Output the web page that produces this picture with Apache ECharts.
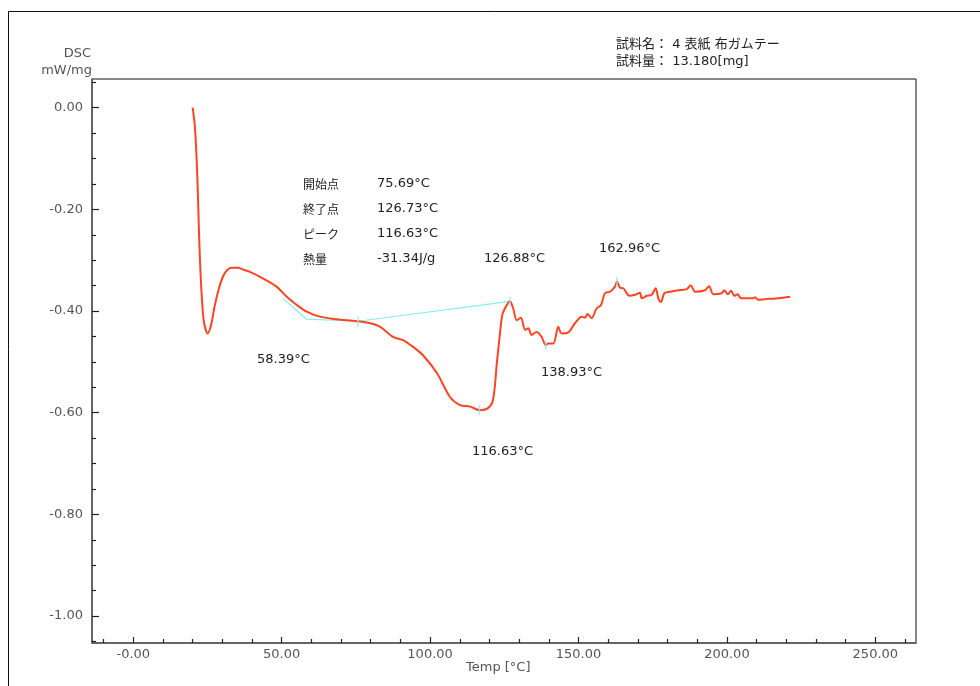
<!DOCTYPE html>
<html>
<head>
<meta charset="utf-8">
<script src="https://cdn.jsdelivr.net/npm/echarts@6/dist/echarts.min.js"></script>
<style>
  html, body { margin: 0; padding: 0; background: #fff; }
  #chart { width: 980px; height: 686px; }
</style>
</head>
<body>
<div id="chart"></div>
<script>
// DSC curve: temperature (°C) and heat flow (mW/mg)
const temps = [
  20.0, 20.8, 21.6, 22.1, 22.5, 23.05, 23.8, 25.1, 26.2, 27.5, 29.2, 30.9, 33.2, 35.3, 37.3,
  39.3, 43.8, 48.3, 51.7, 55.1, 58.4, 62.9, 68.5, 75.3, 79.8, 83.2, 87.5, 90.9, 94.2, 97.6,
  102.3, 106.7, 110.1, 113.5, 116.63, 119.5, 121.2, 122.5, 123.6, 124.3, 125.2, 126.88, 128.0, 129.2,
  130.6, 132.0, 133.1, 134.2, 135.9, 137.6, 138.93, 139.8, 141.5, 143.2, 144.3, 146.6, 148.8, 151.1, 152.2,
  153.1, 154.4, 156.1, 157.6, 158.9, 160.6, 162.3, 162.96, 164.0, 165.1, 166.6, 167.4, 169.0, 170.7, 171.3,
  173.0, 174.7, 176.0, 176.9, 177.8, 178.9, 180.8, 183.6, 186.5, 187.8, 189.3, 192.6, 194.0, 195.4, 198.2,
  199.1, 200.3, 201.4, 202.5, 203.6, 204.8, 208.9, 209.5, 210.6, 213.9, 217.3, 221.3
];
const dsc = [
  0.000, -0.040, -0.138, -0.237, -0.303, -0.368, -0.421, -0.444, -0.428, -0.388, -0.349, -0.325, -0.315, -0.315, -0.319,
  -0.323, -0.336, -0.352, -0.372, -0.388, -0.401, -0.411, -0.416, -0.420, -0.424, -0.431, -0.451, -0.457, -0.470, -0.487,
  -0.522, -0.569, -0.585, -0.588, -0.595, -0.591, -0.575, -0.502, -0.441, -0.408, -0.395, -0.380, -0.395, -0.418,
  -0.413, -0.437, -0.434, -0.447, -0.441, -0.451, -0.467, -0.464, -0.464, -0.431, -0.444, -0.442, -0.424, -0.411, -0.413,
  -0.406, -0.414, -0.395, -0.388, -0.365, -0.362, -0.352, -0.342, -0.354, -0.355, -0.368, -0.370, -0.368, -0.364, -0.375,
  -0.370, -0.368, -0.355, -0.375, -0.382, -0.365, -0.362, -0.359, -0.357, -0.349, -0.362, -0.359, -0.351, -0.367, -0.365,
  -0.359, -0.367, -0.360, -0.370, -0.367, -0.375, -0.375, -0.373, -0.378, -0.376, -0.375, -0.372
];

// analysis baseline (tangent + integration baseline)
const baseTemps = [50.5, 58.39, 75.69, 126.88];
const baseValues = [-0.375, -0.416, -0.420, -0.381];

// characteristic-point markers
const markTemps = [75.69, 116.63, 126.88, 138.93, 162.96];
const markValues = [-0.421, -0.595, -0.381, -0.467, -0.343];

// axis ticks
const xMajorTicks = [0, 50, 100, 150, 200, 250];
const xTickLabels = ['-0.00', '50.00', '100.00', '150.00', '200.00', '250.00'];
const xMinorTicks = [-10, 10, 20, 30, 40, 60, 70, 80, 90, 110, 120, 130, 140, 160, 170, 180, 190, 210, 220, 230, 240, 260];
const yMajorTicks = [0, -0.2, -0.4, -0.6, -0.8, -1.0];
const yTickLabels = ['0.00', '-0.20', '-0.40', '-0.60', '-0.80', '-1.00'];
const yMinorTicks = [0.05, -0.05, -0.1, -0.15, -0.25, -0.3, -0.35, -0.45, -0.5, -0.55, -0.65, -0.7, -0.75, -0.85, -0.9, -0.95, -1.05];

// analysis results
const resultNames = ['開始点', '終了点', 'ピーク', '熱量'];
const resultValues = ['75.69°C', '126.73°C', '116.63°C', '-31.34J/g'];
const peakLabels = ['58.39°C', '116.63°C', '126.88°C', '138.93°C', '162.96°C'];
const sampleInfo = ['試料名： 4 表紙 布ガムテープ', '試料量： 13.180[mg]'];

const X_MIN = -13.9, X_MAX = 263.7, Y_MIN = -1.053, Y_MAX = 0.0565;
const NUM_FONT = '"DejaVu Sans", Verdana, sans-serif';
const JP_FONT = '"Noto Sans CJK JP", sans-serif';
const MIX_FONT = '"DejaVu Sans", "Noto Sans CJK JP", sans-serif';
const AXIS_GRAY = '#5a5a5a';
const TEXT_GRAY = '#555';
const TEXT_DARK = '#222';

const chart = echarts.init(document.getElementById('chart'), null, { renderer: 'canvas' });

function axisBase(extra) {
  return Object.assign({
    type: 'value',
    splitLine: { show: false },
    axisLine: { show: true, onZero: false, lineStyle: { color: AXIS_GRAY, width: 1.5 } }
  }, extra);
}

const xLabelMap = {};
xMajorTicks.forEach((v, i) => { xLabelMap[v] = xTickLabels[i]; });
const yLabelMap = {};
yMajorTicks.forEach((v, i) => { yLabelMap[v.toFixed(2)] = yTickLabels[i]; });

// free-standing texts, positioned in the canvas
const texts = [];
function addText(x, y, str, font, size, color, extra) {
  texts.push({
    type: 'text', x: x, y: y, z: 10,
    style: Object.assign({
      text: str, fontFamily: font, fontSize: size, fill: color,
      verticalAlign: 'middle', align: 'left'
    }, extra || {})
  });
}

addText(91, 54, 'DSC', NUM_FONT, 13, TEXT_GRAY, { align: 'right' });
addText(92, 71, 'mW/mg', NUM_FONT, 13, TEXT_GRAY, { align: 'right' });
addText(466, 668, 'Temp [°C]', NUM_FONT, 13, TEXT_GRAY);
addText(616, 45, sampleInfo[0], MIX_FONT, 13, TEXT_DARK, { width: 176, overflow: 'truncate', ellipsis: '' });
addText(616, 62, sampleInfo[1], MIX_FONT, 13, TEXT_DARK, { width: 146, overflow: 'truncate', ellipsis: '' });

const rowY = [184, 209, 234, 259];
resultNames.forEach((n, i) => {
  addText(303, rowY[i], n, JP_FONT, 12, TEXT_DARK);
  addText(377, rowY[i], resultValues[i], NUM_FONT, 13, TEXT_DARK);
});
const peakPos = [[257, 360], [472, 452], [484, 259], [541, 373], [599, 249]];
peakLabels.forEach((s, i) => addText(peakPos[i][0], peakPos[i][1], s, NUM_FONT, 13, TEXT_DARK));

// outer frame
texts.push({
  type: 'rect', z: 0, silent: true,
  shape: { x: 8.5, y: 11.5, width: 1200, height: 1000 },
  style: { fill: 'none', stroke: '#111', lineWidth: 1 }
});

const minorAxisLine = { show: false, onZero: false };

const option = {
  animation: false,
  backgroundColor: '#fff',
  grid: {
    left: 92, right: 64, top: 79, bottom: 43,
    containLabel: false, outerBoundsMode: 'none',
    show: true, borderColor: '#111', borderWidth: 1, backgroundColor: 'transparent'
  },
  xAxis: [
    axisBase({
      min: X_MIN, max: X_MAX, position: 'bottom',
      axisTick: { show: true, inside: true, length: 6, customValues: xMajorTicks, lineStyle: { color: '#222', width: 1.2 } },
      axisLabel: {
        show: true, customValues: xMajorTicks, margin: 5,
        color: TEXT_GRAY, fontSize: 13, fontFamily: NUM_FONT,
        formatter: v => xLabelMap[Math.round(v)] || ''
      }
    }),
    axisBase({
      min: X_MIN, max: X_MAX, position: 'bottom', offset: 0,
      axisLine: minorAxisLine,
      axisTick: { show: true, inside: true, length: 4, customValues: xMinorTicks, lineStyle: { color: '#222', width: 1.2 } },
      axisLabel: { show: false }
    })
  ],
  yAxis: [
    axisBase({
      min: Y_MIN, max: Y_MAX, position: 'left',
      axisTick: { show: true, inside: true, length: 7, customValues: yMajorTicks, lineStyle: { color: '#222', width: 1.2 } },
      axisLabel: {
        show: true, customValues: yMajorTicks, margin: 9,
        color: TEXT_GRAY, fontSize: 13, fontFamily: NUM_FONT,
        formatter: v => yLabelMap[v.toFixed(2)] || ''
      }
    }),
    axisBase({
      min: Y_MIN, max: Y_MAX, position: 'left', offset: 0,
      axisLine: minorAxisLine,
      axisTick: { show: true, inside: true, length: 4, customValues: yMinorTicks, lineStyle: { color: '#222', width: 1.2 } },
      axisLabel: { show: false }
    })
  ],
  series: [
    {
      name: 'baseline', type: 'line', xAxisIndex: 0, yAxisIndex: 0,
      data: baseTemps.map((t, i) => [t, baseValues[i]]),
      showSymbol: false, silent: true, z: 3,
      lineStyle: { color: '#86eef2', width: 1.2 }
    },
    {
      name: 'DSC', type: 'line', xAxisIndex: 0, yAxisIndex: 0,
      data: temps.map((t, i) => [t, dsc[i]]),
      showSymbol: false, smooth: 0.3, silent: true, z: 4,
      lineStyle: { color: '#ff4422', width: 2 }
    },
    {
      name: 'points', type: 'scatter', xAxisIndex: 0, yAxisIndex: 0,
      data: markTemps.map((t, i) => [t, markValues[i]]),
      symbol: 'rect', symbolSize: [1.5, 10], silent: true, z: 5,
      itemStyle: { color: '#86eef2' }
    }
  ],
  graphic: texts
};

chart.setOption(option);
</script>
</body>
</html>
